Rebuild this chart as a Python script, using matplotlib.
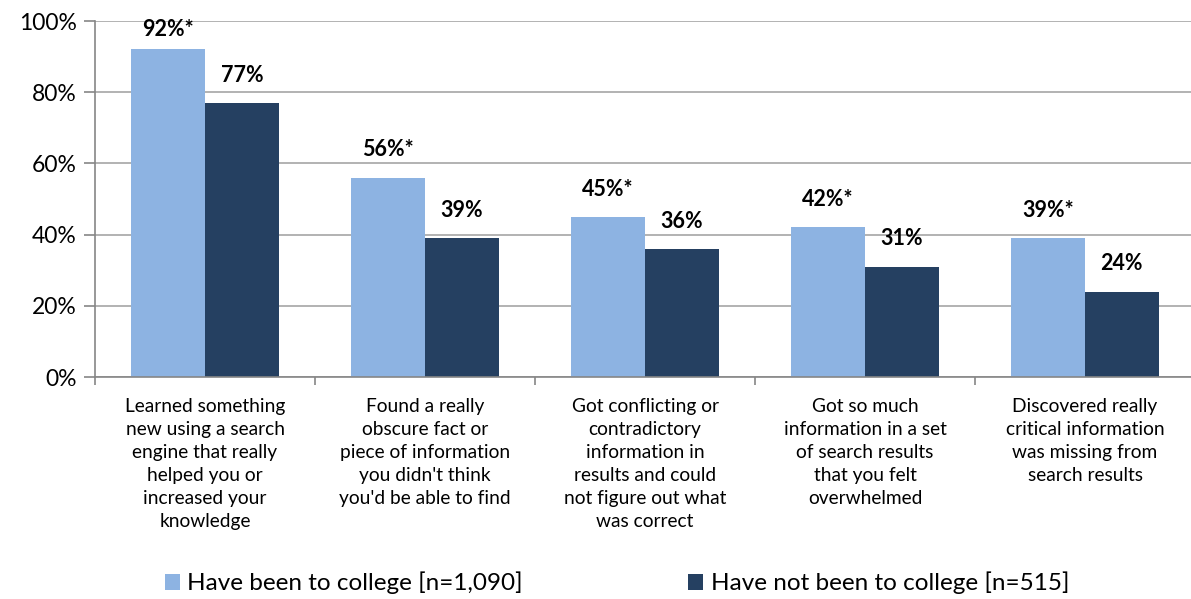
import matplotlib.pyplot as plt
import numpy as np

plt.rcParams['font.family'] = ['Lato', 'DejaVu Sans']

categories = [
    "Learned something\nnew using a search\nengine that really\nhelped you or\nincreased your\nknowledge",
    "Found a really\nobscure fact or\npiece of information\nyou didn't think\nyou'd be able to find",
    "Got conflicting or\ncontradictory\ninformation in\nresults and could\nnot figure out what\nwas correct",
    "Got so much\ninformation in a set\nof search results\nthat you felt\noverwhelmed",
    "Discovered really\ncritical information\nwas missing from\nsearch results",
]
college = [92, 56, 45, 42, 39]
no_college = [77, 39, 36, 31, 24]
college_labels = ["92%*", "56%*", "45%*", "42%*", "39%*"]
no_college_labels = ["77%", "39%", "36%", "31%", "24%"]
series_names = ["Have been to college [n=1,090]", "Have not been to college [n=515]"]

light = '#8DB3E2'
dark = '#254061'
grid_c = '#A6A6A6'

W, H = 1191, 599
fig = plt.figure(figsize=(W / 100, H / 100), dpi=100)
ax = fig.add_axes([95 / W, 1 - 377 / H, 1100 / W, 356 / H])

x = np.arange(len(categories))
bw = 0.335
b1 = ax.bar(x - bw / 2, college, bw, color=light, label=series_names[0], zorder=2)
b2 = ax.bar(x + bw / 2, no_college, bw, color=dark, label=series_names[1], zorder=2)

for xi, v, t in zip(x - bw / 2, college, college_labels):
    ax.text(xi, min(v + 7.8, 97.6), t, ha='center', va='center',
            fontsize=15.5, fontweight='bold')
for xi, v, t in zip(x + bw / 2, no_college, no_college_labels):
    ax.text(xi, min(v + 7.8, 97.6), t, ha='center', va='center',
            fontsize=15.5, fontweight='bold')

ax.set_xlim(-0.5, len(categories) - 0.5)
ax.set_ylim(0, 100)
ax.set_yticks(range(0, 101, 20))
ax.set_yticklabels([f"{v}%" for v in range(0, 101, 20)], fontsize=16.5)
ax.yaxis.grid(True, color=grid_c, linewidth=1.2, zorder=0)
ax.set_axisbelow(True)

ax.set_xticks(np.arange(-0.5, len(categories), 1))
ax.set_xticklabels([])
ax.tick_params(axis='x', length=6, color='#868686', width=1.2)
ax.tick_params(axis='y', length=8, color='#868686', width=1.2, pad=5)

for i, c in enumerate(categories):
    ax.text(i, -5.8, c, ha='center', va='top', fontsize=13.8, linespacing=1.43)

for s in ['top', 'right']:
    ax.spines[s].set_visible(False)
ax.spines['left'].set_color('#868686')
ax.spines['bottom'].set_color('#868686')
ax.spines['left'].set_linewidth(1.2)
ax.spines['bottom'].set_linewidth(1.2)

fig.legend(handles=[b1, b2], loc='center left', bbox_to_anchor=(165 / W, 1 - 583 / H),
           ncol=2, frameon=False, fontsize=17.5, handlelength=0.62, handleheight=0.62,
           handletextpad=0.3, columnspacing=6.8, borderaxespad=0, borderpad=0)

fig.savefig('out.png', dpi=100)
